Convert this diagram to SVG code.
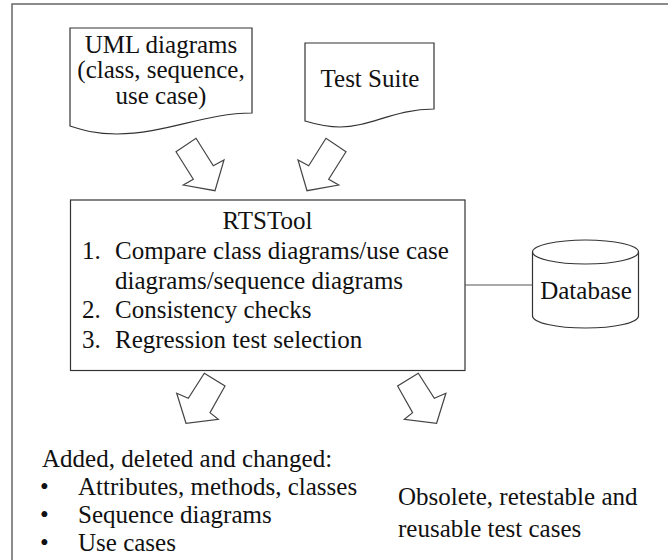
<svg xmlns="http://www.w3.org/2000/svg" width="668" height="560" viewBox="0 0 668 560">
<style>
  text { font-family: 'Liberation Serif', 'DejaVu Serif', serif; font-size: 25px; fill: #111; }
  .c { text-anchor: middle; }
  .shape { fill: #fff; stroke: #333; stroke-width: 1.2; }
  .arrow { fill: #fff; stroke: #444; stroke-width: 1.2; stroke-linejoin: miter; }
  .link { stroke: #555; stroke-width: 1.2; fill: none; }
</style>
<rect width="668" height="560" fill="#fff"/>
<rect x="12" y="4" width="700" height="600" fill="none" stroke="#666" stroke-width="1.5"/>

<g id="uml-diagrams">
  <path class="shape" d="M70,28 H252 V113 C205,113 165,134 117,134 C95,134 82,130 70,126 Z"/>
  <text class="c" x="161" y="53" font-family="Liberation Serif, serif">UML diagrams</text>
  <text class="c" x="161" y="78">(class, sequence,</text>
  <text class="c" x="161" y="104">use case)</text>
</g>

<g id="test-suite">
  <path class="shape" d="M305,43 H434 V109 C395,109 370,127 340,127 C325,127 315,124 305,121 Z"/>
  <text class="c" x="370" y="87">Test Suite</text>
</g>

<g id="rtstool">
  <rect class="shape" x="70.5" y="200" width="394.5" height="170.5" stroke="#111" stroke-width="1.5"/>
  <text class="c" x="267.5" y="229">RTSTool</text>
  <text x="82" y="259">1.</text>
  <text x="115" y="259">Compare class diagrams/use case</text>
  <text x="115" y="289">diagrams/sequence diagrams</text>
  <text x="82" y="318">2.</text>
  <text x="115" y="318">Consistency checks</text>
  <text x="82" y="348">3.</text>
  <text x="115" y="348">Regression test selection</text>
</g>

<g id="database">
  <path class="shape" d="M532.5,252 A53,12 0 0 1 638.5,252 V316 A53,12 0 0 1 532.5,316 Z"/>
  <path class="shape" fill="none" d="M532.5,252 A53,12 0 0 0 638.5,252"/>
  <text class="c" x="586" y="299">Database</text>
</g>

<g id="output-changes">
  <text x="42" y="467">Added, deleted and changed:</text>
  <text x="40" y="495">•</text>
  <text x="78" y="495">Attributes, methods, classes</text>
  <text x="40" y="523">•</text>
  <text x="78" y="523">Sequence diagrams</text>
  <text x="40" y="551">•</text>
  <text x="78" y="551">Use cases</text>
</g>

<g id="output-tests">
  <text x="398" y="505">Obsolete, retestable and</text>
  <text x="398" y="537">reusable test cases</text>
</g>

<g id="connectors">
  <line class="link" x1="465" y1="285" x2="532.5" y2="285"/>
  <polygon class="arrow" points="176,151.7 196,138.3 213.3,165.7 224,160 215,190.7 183.3,185 193.3,179.3"/>
  <polygon class="arrow" points="346,151.7 326,138.3 308.7,165.7 298,160 307,190.7 338.7,185 328.7,179.3"/>
  <polygon class="arrow" points="204.3,373.3 225,386 210,412.7 218.3,419.3 186,423.3 176.7,393.3 188.3,398.3"/>
  <polygon class="arrow" points="418.3,373.3 397.6,386 412.6,412.7 404.3,419.3 436.6,423.3 445.9,393.3 434.3,398.3"/>
</g>
</svg>
